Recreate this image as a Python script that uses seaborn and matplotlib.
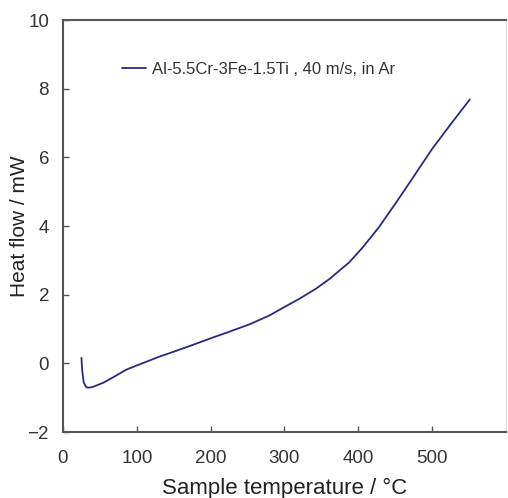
import pandas
import seaborn as sns
from matplotlib import pyplot

sns.set_style("white")
pyplot.rcParams['font.family'] = ['Liberation Sans', 'DejaVu Sans']

# DSC trace
temperature = [25, 26, 28, 31, 34, 40, 55, 70, 86, 100, 131, 150, 176, 200, 221, 253, 280,
               298, 320, 343, 361, 388, 406, 428, 451, 473, 500, 527, 551]
heat_flow = [0.16, -0.20, -0.55, -0.68, -0.71, -0.69, -0.56, -0.38, -0.18, -0.06, 0.20, 0.34,
             0.54, 0.73, 0.89, 1.14, 1.40, 1.62, 1.88, 2.18, 2.46, 2.95, 3.38, 3.97, 4.68,
             5.38, 6.25, 7.02, 7.69]
series_label = 'Al-5.5Cr-3Fe-1.5Ti , 40 m/s, in Ar'
x_ticks = [0, 100, 200, 300, 400, 500]
y_ticks = [-2, 0, 2, 4, 6, 8, 10]


def plot_dsc():
    plot_df = pandas.DataFrame({'T': temperature, 'HF': heat_flow})

    fig = pyplot.figure(figsize=(5.08, 4.98), dpi=100)
    ax = fig.add_axes([0.124, 0.1325, 0.872, 0.827])
    sns.lineplot(data=plot_df, x='T', y='HF', ax=ax, color='#2a2a7e', linewidth=1.3,
                 label=series_label, sort=False)

    ax.set_xlim(0, 600)
    ax.set_ylim(-2, 10)
    ax.set_xticks(x_ticks)
    ax.set_yticks(y_ticks)
    ax.tick_params(direction='in', length=4, width=1, colors='#555555',
                   labelcolor='#333333', labelsize=13.5)
    ax.tick_params(axis='x', top=False, bottom=True, pad=13)
    ax.tick_params(axis='y', left=True, right=False, pad=10)

    for side in ['left', 'bottom', 'top']:
        ax.spines[side].set_color('#555555')
        ax.spines[side].set_linewidth(1.5)
    ax.spines['right'].set_color('#e4e4e4')
    ax.spines['right'].set_linewidth(1)

    ax.set_xlabel('Sample temperature / °C', fontsize=16, color='#222222', labelpad=8)
    ax.set_ylabel('Heat flow / mW', fontsize=15, color='#222222', labelpad=-1)

    ax.legend(loc='upper left', bbox_to_anchor=(0.10, 0.935), frameon=False,
              fontsize=12, handlelength=1.4, handletextpad=0.4, labelcolor='#333333')

    pyplot.savefig('out.png', dpi=100)


if __name__ == '__main__':
    plot_dsc()
